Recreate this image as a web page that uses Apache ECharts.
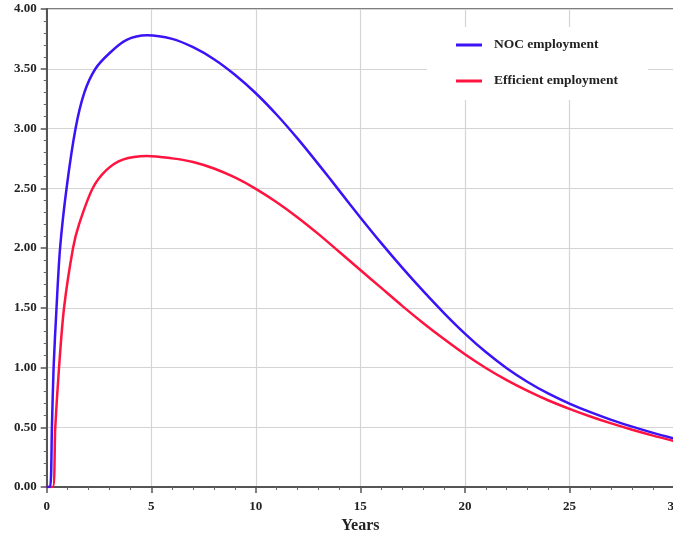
<!DOCTYPE html>
<html>
<head>
<meta charset="utf-8">
<script src="https://cdn.jsdelivr.net/npm/echarts@6/dist/echarts.min.js"></script>
<style>html,body{margin:0;padding:0;background:#fff;}#chart{width:673px;height:533px;}</style>
</head>
<body>
<div id="chart"></div>
<script>
const seriesNames = ['NOC employment', 'Efficient employment'];
const nocYears  = [0, 0.16, 0.25, 0.33, 0.47, 0.64, 0.95, 1.38, 1.8, 2.33, 3.0, 3.8, 4.8, 6, 7, 8, 9, 10, 11, 12, 13, 14, 15, 16, 17, 18, 19, 20, 21, 22, 23, 24, 25, 26, 27, 28, 29, 30];
const nocValues = [0, 0, 0.5, 1.0, 1.5, 2.0, 2.5, 3.0, 3.3, 3.5, 3.63, 3.74, 3.78, 3.75, 3.68, 3.58, 3.45, 3.295, 3.115, 2.915, 2.70, 2.478, 2.256, 2.041, 1.836, 1.641, 1.456, 1.284, 1.129, 0.994, 0.879, 0.781, 0.698, 0.626, 0.562, 0.505, 0.453, 0.406];
const effYears  = [0, 0.29, 0.41, 0.59, 0.83, 1.26, 1.55, 2.2, 2.84, 3.64, 4.8, 6, 7, 8, 9, 10, 11, 12, 13, 14, 15, 16, 17, 18, 19, 20, 21, 22, 23, 24, 25, 26, 27, 28, 29, 30];
const effValues = [0, 0, 0.5, 1.0, 1.5, 2.0, 2.2, 2.5, 2.65, 2.74, 2.77, 2.75, 2.72, 2.665, 2.59, 2.495, 2.383, 2.256, 2.116, 1.966, 1.816, 1.666, 1.516, 1.373, 1.238, 1.111, 0.996, 0.894, 0.804, 0.724, 0.654, 0.590, 0.532, 0.479, 0.430, 0.385];
const xTicks = { min: 0, max: 30, interval: 5 };
const yTicks = { min: 0, max: 4, interval: 0.5 };
const xName = 'Years';

const font = 'Liberation Serif';
const chart = echarts.init(document.getElementById('chart'));
const pairs = (xs, ys) => xs.map((x, i) => [x, ys[i]]);

chart.setOption({
  animation: false,
  backgroundColor: '#fff',
  grid: { left: 46.7, right: -1, top: 9, bottom: 46, outerBoundsMode: 'none', containLabel: false,
    show: true, borderColor: '#555', borderWidth: 1.5, backgroundColor: 'transparent' },
  legend: {
    orient: 'vertical',
    left: 427, top: 27,
    padding: [11, 30, 12, 29],
    backgroundColor: '#fff',
    itemWidth: 26, itemHeight: 3, itemGap: 22,
    icon: 'rect',
    textStyle: { fontFamily: font, fontWeight: 'bold', fontSize: 13.5, color: '#222', padding: [0, 0, 0, 7] },
    data: seriesNames
  },
  xAxis: {
    type: 'value', min: xTicks.min, max: xTicks.max, interval: xTicks.interval,
    name: xName, nameLocation: 'middle', nameGap: 27,
    nameTextStyle: { fontFamily: font, fontWeight: 'bold', fontSize: 16, color: '#222' },
    axisLine: { show: true, lineStyle: { color: '#555', width: 2 } },
    axisTick: { show: true, inside: false, length: 6, lineStyle: { color: '#555', width: 1.5 } },
    minorTick: { show: true, splitNumber: 5, length: 3, lineStyle: { color: '#666', width: 1 } },
    axisLabel: { fontFamily: font, fontWeight: 'bold', fontSize: 13, color: '#222', margin: 13 },
    splitLine: { show: true, lineStyle: { color: '#d4d4d4', width: 1.2 } }
  },
  yAxis: {
    type: 'value', min: yTicks.min, max: yTicks.max, interval: yTicks.interval,
    axisLine: { show: true, lineStyle: { color: '#555', width: 2 } },
    axisTick: { show: true, inside: false, length: 6, lineStyle: { color: '#555', width: 1.5 } },
    minorTick: { show: true, splitNumber: 5, length: 3, lineStyle: { color: '#666', width: 1 } },
    axisLabel: { fontFamily: font, fontWeight: 'bold', fontSize: 13, color: '#222', margin: 10,
      formatter: v => v.toFixed(2) },
    splitLine: { show: true, lineStyle: { color: '#d4d4d4', width: 1.2 } }
  },
  series: [
    { name: seriesNames[0], type: 'line', data: pairs(nocYears, nocValues), showSymbol: false,
      smooth: 0.3, color: '#3c12f7', lineStyle: { width: 2.5, color: '#3c12f7' }, z: 3 },
    { name: seriesNames[1], type: 'line', data: pairs(effYears, effValues), showSymbol: false,
      smooth: 0.3, color: '#ff1440', lineStyle: { width: 2.5, color: '#ff1440' }, z: 2 }
  ]
});
</script>
</body>
</html>
